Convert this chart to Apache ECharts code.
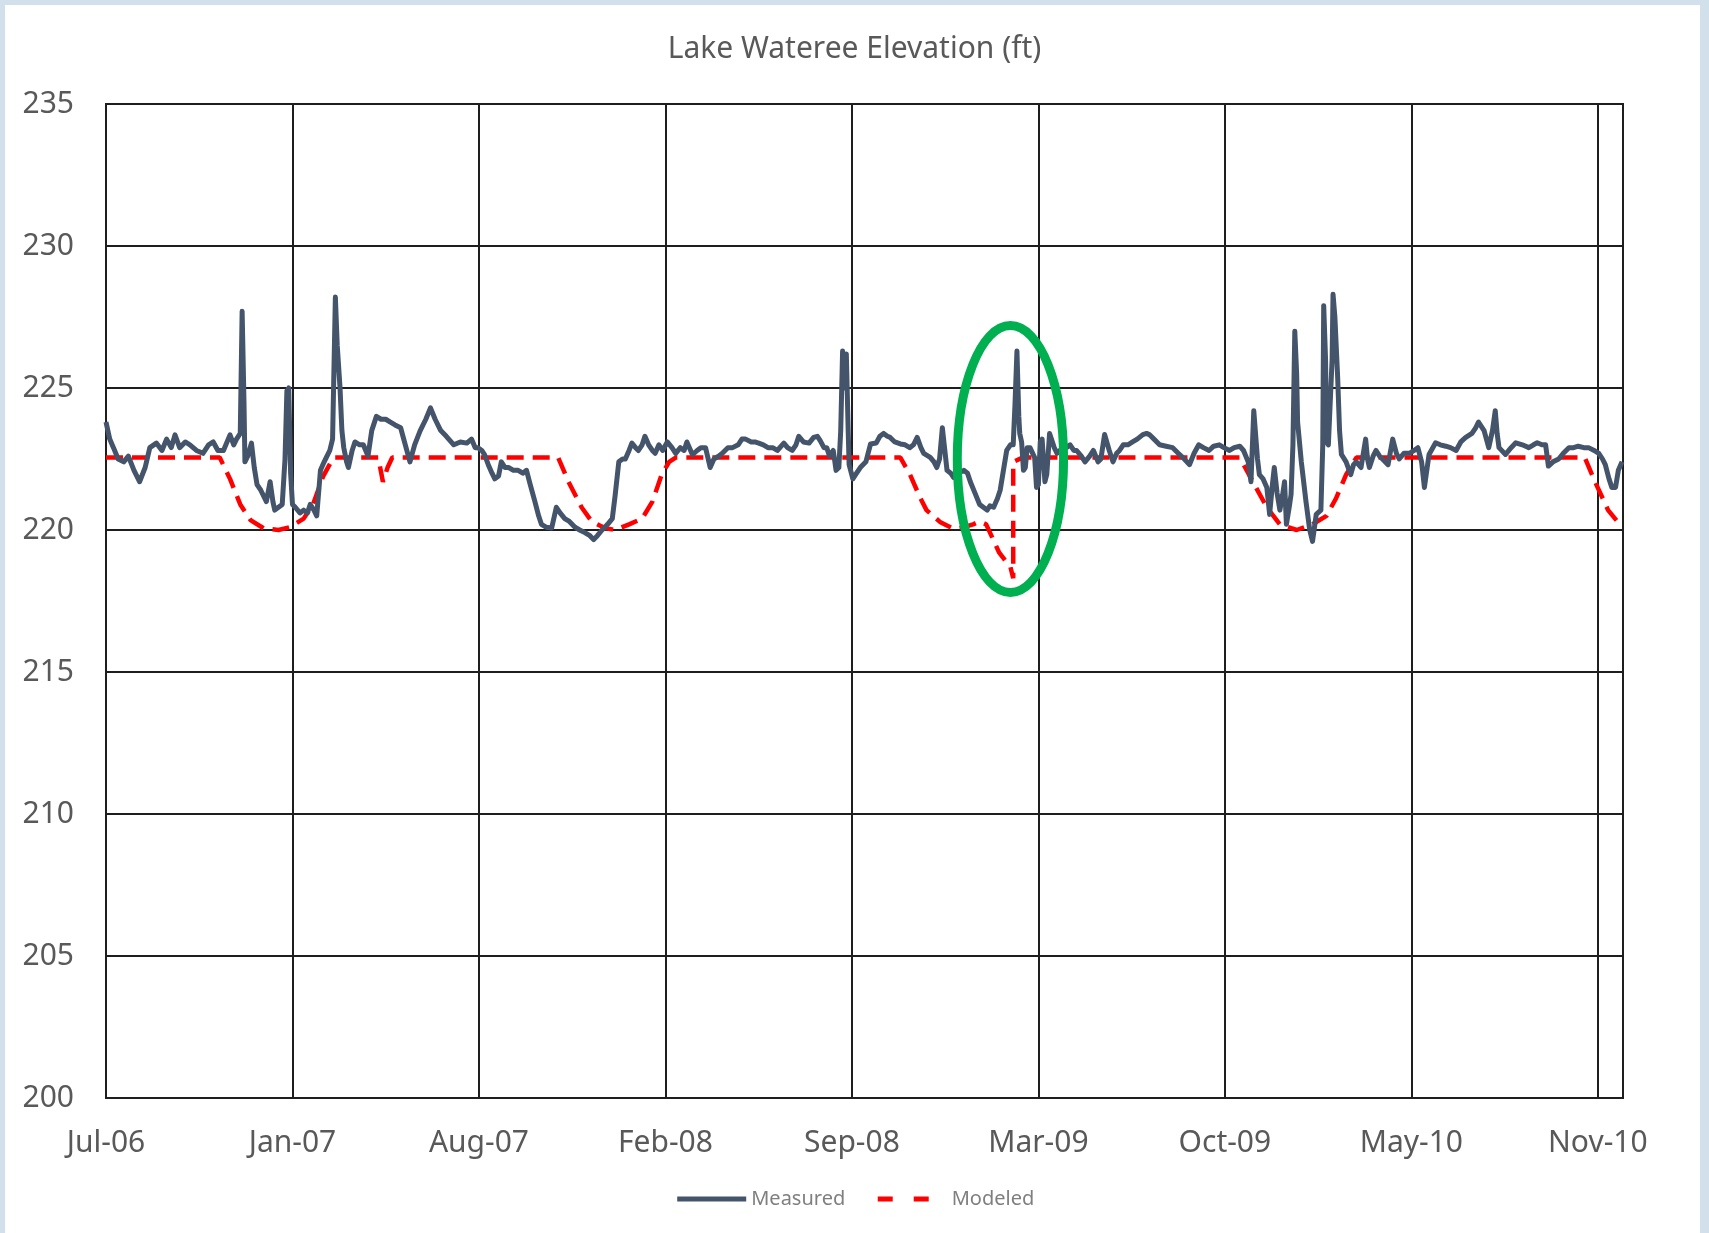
<!DOCTYPE html>
<html>
<head>
<meta charset="utf-8">
<title>Lake Wateree Elevation</title>
<script src="https://cdn.jsdelivr.net/npm/echarts@6/dist/echarts.min.js"></script>
<style>
  html, body { margin: 0; padding: 0; background: #d2e0ec; }
  #sheet { position: absolute; left: 5px; top: 5px; width: 1695px; height: 1228px; background: #ffffff; }
  #chart { position: absolute; left: 0; top: 0; width: 1709px; height: 1233px; }
</style>
</head>
<body>
<div id="sheet"></div>
<div id="chart"></div>
<script>
// Time is counted in days since 1 July 2006; x-axis ticks every 200 days.
const START_DATE = '2006-07-01';
const xTickLabels = ['Jul-06', 'Jan-07', 'Aug-07', 'Feb-08', 'Sep-08', 'Mar-09', 'Oct-09', 'May-10', 'Nov-10'];
const yTickValues = [200, 205, 210, 215, 220, 225, 230, 235];

// Measured lake elevation (ft)
const measuredDay = [
  0, 4, 8, 13, 19, 24, 30, 36, 42, 47, 54, 60, 65, 70, 74, 79, 85, 90, 97, 104,
  110, 115, 120, 126, 133, 137, 140, 144, 146, 148, 149, 152, 156, 159, 162, 166, 169, 172, 176, 179,
  181, 185, 189, 192, 194, 196, 198, 200, 203, 208, 212, 216, 219, 223, 226, 230, 234, 237, 240, 243,
  246, 248, 251, 253, 255, 258, 260, 264, 267, 272, 276, 281, 285, 290, 295, 300, 305, 310, 316, 321,
  326, 331, 337, 343, 348, 353, 359, 365, 373, 380, 387, 392, 396, 399, 403, 406, 410, 414, 417, 421,
  424, 428, 432, 437, 442, 447, 451, 455, 460, 464, 467, 472, 478, 483, 487, 492, 497, 503, 508, 514,
  519, 523, 527, 532, 538, 543, 546, 550, 554, 557, 561, 564, 568, 571, 575, 578, 582, 586, 589, 593,
  597, 602, 607, 611, 616, 620, 623, 629, 634, 638, 643, 648, 652, 657, 661, 667, 672, 678, 682, 686,
  692, 696, 700, 705, 710, 715, 720, 727, 731, 736, 740, 743, 748, 754, 759, 763, 766, 770, 773, 776,
  780, 783, 786, 788, 790, 792, 794, 796, 797, 801, 805, 809, 815, 820, 826, 830, 834, 838, 841, 846,
  852, 857, 862, 866, 870, 874, 877, 884, 888, 891, 894, 897, 899, 902, 906, 909, 914, 920, 924, 927,
  932, 937, 941, 945, 948, 952, 956, 959, 963, 966, 970, 973, 975, 977, 979, 980, 982, 984, 986, 988,
  991, 996, 998, 1000, 1002, 1004, 1007, 1009, 1012, 1014, 1017, 1020, 1023, 1027, 1030, 1034, 1038, 1041, 1046, 1050,
  1055, 1059, 1064, 1067, 1071, 1076, 1080, 1084, 1087, 1091, 1096, 1101, 1106, 1112, 1116, 1119, 1124, 1130, 1137, 1144,
  1150, 1155, 1162, 1167, 1172, 1177, 1183, 1188, 1194, 1199, 1205, 1210, 1216, 1220, 1225, 1228, 1231, 1233, 1235, 1237,
  1241, 1245, 1248, 1251, 1253, 1256, 1259, 1262, 1264, 1266, 1269, 1271, 1273, 1275, 1277, 1278, 1282, 1287, 1291, 1294,
  1298, 1303, 1305, 1306, 1308, 1309, 1311, 1313, 1315, 1316, 1318, 1321, 1323, 1325, 1330, 1335, 1338, 1341, 1346, 1351,
  1353, 1355, 1359, 1362, 1366, 1369, 1375, 1380, 1384, 1387, 1392, 1398, 1403, 1407, 1411, 1414, 1417, 1419, 1426, 1431,
  1437, 1442, 1448, 1453, 1458, 1465, 1469, 1472, 1478, 1483, 1487, 1490, 1492, 1494, 1501, 1507, 1512, 1519, 1526, 1531,
  1535, 1540, 1544, 1547, 1552, 1558, 1563, 1569, 1574, 1579, 1585, 1590, 1596, 1601, 1605, 1608, 1612, 1615, 1619, 1622,
  1626
];
const measuredFt = [
  223.8, 223.2, 222.9, 222.5, 222.4, 222.6, 222.1, 221.7, 222.2, 222.9, 223.06, 222.8, 223.2, 222.9, 223.35, 222.9, 223.1, 223.0, 222.8, 222.7,
  223.0, 223.1, 222.8, 222.8, 223.35, 223.0, 223.2, 223.4, 227.7, 224.5, 222.4, 222.6, 223.06, 222.2, 221.6, 221.4, 221.2, 221.0, 221.7, 221.0,
  220.7, 220.8, 220.9, 222.5, 224.9, 225.0, 222.0, 220.9, 220.8, 220.6, 220.7, 220.6, 220.9, 220.7, 220.5, 222.1, 222.4, 222.6, 222.8, 223.2,
  228.2, 226.5, 225.0, 223.5, 222.9, 222.4, 222.2, 222.8, 223.1, 223.0, 223.0, 222.6, 223.5, 224.0, 223.9, 223.9, 223.8, 223.7, 223.6, 223.0,
  222.4, 223.0, 223.5, 223.9, 224.3, 223.9, 223.5, 223.3, 223.0, 223.1, 223.06, 223.2, 222.9, 222.9, 222.8, 222.65, 222.3, 222.0, 221.8, 221.9,
  222.4, 222.2, 222.2, 222.1, 222.1, 222.0, 222.1, 221.6, 221.0, 220.5, 220.2, 220.1, 220.07, 220.8, 220.6, 220.4, 220.3, 220.1, 220.0, 219.9,
  219.8, 219.66, 219.8, 220.0, 220.2, 220.4, 221.2, 222.4, 222.5, 222.5, 222.8, 223.06, 222.9, 222.8, 223.0, 223.3, 223.0, 222.8, 222.7, 223.0,
  222.8, 223.1, 222.9, 222.7, 222.9, 222.8, 223.1, 222.65, 222.8, 222.9, 222.9, 222.2, 222.5, 222.6, 222.7, 222.9, 222.9, 223.0, 223.2, 223.2,
  223.1, 223.1, 223.06, 223.0, 222.9, 222.9, 222.8, 223.06, 222.9, 222.8, 223.0, 223.3, 223.1, 223.06, 223.26, 223.3, 223.15, 222.9, 222.9, 222.6,
  222.8, 222.1, 222.2, 223.5, 226.3, 225.0, 226.2, 223.5, 222.3, 221.8, 222.0, 222.2, 222.4, 223.03, 223.06, 223.3, 223.4, 223.3, 223.26, 223.1,
  223.03, 223.0, 222.9, 223.0, 223.26, 222.9, 222.7, 222.56, 222.4, 222.2, 222.5, 223.6, 223.0, 222.1, 222.0, 221.85, 222.0, 222.1, 222.0, 221.7,
  221.3, 220.9, 220.8, 220.7, 220.85, 220.8, 221.1, 221.4, 222.2, 222.8, 223.0, 223.0, 224.5, 226.3, 224.0, 223.4, 223.1, 222.1, 222.2, 222.9,
  222.9, 222.55, 221.5, 221.6, 223.1, 223.2, 221.7, 221.96, 223.4, 223.36, 222.9, 222.7, 222.8, 222.9, 222.9, 223.0, 222.8, 222.8, 222.6, 222.4,
  222.6, 222.8, 222.4, 222.5, 223.36, 222.8, 222.4, 222.7, 222.8, 223.0, 223.0, 223.1, 223.2, 223.36, 223.4, 223.36, 223.2, 223.0, 222.95, 222.9,
  222.7, 222.55, 222.3, 222.7, 223.0, 222.9, 222.8, 222.95, 223.0, 222.9, 222.8, 222.9, 222.95, 222.8, 222.4, 221.7, 224.2, 224.2, 222.5, 221.95,
  221.8, 221.5, 220.55, 221.6, 222.2, 221.3, 220.7, 221.25, 221.7, 220.2, 220.8, 221.25, 223.0, 227.0, 225.5, 223.8, 222.4, 221.0, 220.0, 219.6,
  220.55, 220.7, 223.0, 227.9, 226.0, 223.1, 223.0, 223.0, 226.0, 228.3, 227.5, 225.35, 223.5, 222.66, 222.4, 221.95, 222.3, 222.4, 222.2, 223.2,
  222.5, 222.2, 222.6, 222.8, 222.6, 222.5, 222.3, 223.2, 222.7, 222.5, 222.7, 222.7, 222.8, 222.9, 222.4, 221.5, 222.2, 222.66, 223.07, 223.0,
  222.95, 222.9, 222.8, 223.1, 223.25, 223.4, 223.6, 223.8, 223.5, 222.9, 223.5, 224.2, 223.4, 222.9, 222.66, 222.9, 223.07, 223.0, 222.9, 223.0,
  223.07, 223.0, 223.0, 222.25, 222.4, 222.5, 222.7, 222.9, 222.9, 222.95, 222.9, 222.9, 222.8, 222.7, 222.5, 222.3, 221.8, 221.5, 221.5, 222.1,
  222.4
];

// Modeled lake elevation (ft)
const modeledDay = [
  0, 122, 133, 144, 155, 169, 185, 197, 212, 222, 233, 244, 292, 297, 302, 307,
  485, 496, 510, 521, 535, 546, 561, 575, 586, 596, 604, 611,
  852, 862, 873, 880, 895, 909, 920, 930, 937, 944, 951, 958, 965, 970, 973, 973, 983,
  1216, 1230, 1245, 1259, 1277, 1294, 1309, 1319, 1330, 1341,
  1586, 1597, 1611, 1626
];
const modeledFt = [
  222.55, 222.55, 221.8, 220.9, 220.35, 220.06, 220.0, 220.1, 220.4, 220.9, 221.9, 222.55, 222.55, 221.7, 222.2, 222.55,
  222.55, 221.7, 220.8, 220.3, 220.07, 220.0, 220.2, 220.4, 221.0, 221.95, 222.4, 222.55,
  222.55, 221.97, 221.15, 220.7, 220.27, 220.04, 220.1, 220.2, 220.3, 220.2, 219.7, 219.2, 218.9, 218.7, 218.3, 222.4, 222.55,
  222.55, 221.7, 220.8, 220.2, 220.0, 220.2, 220.5, 221.1, 221.95, 222.55,
  222.55, 221.7, 220.7, 220.1
];

// Highlighted period: centre (day, ft) and half-extent (days, ft)
const highlightCentre = [970, 222.5];
const highlightHalf = [57, 4.7];

const X_MAX_DAY = 1627;
const FONT = '"Noto Sans", "Open Sans", sans-serif';
const TEXT_GREY = '#595959';
const GRID_COLOR = '#1e1e1e';

const pairs = (xs, ys) => xs.map((x, i) => [x, ys[i]]);

const chart = echarts.init(document.getElementById('chart'), null, { renderer: 'canvas' });

const option = {
  animation: false,
  backgroundColor: 'transparent',
  textStyle: { fontFamily: FONT },
  title: {
    text: 'Lake Wateree Elevation (ft)',
    left: 'center',
    top: 29,
    textStyle: { fontFamily: FONT, fontSize: 30, fontWeight: 'normal', color: TEXT_GREY }
  },
  grid: {
    left: 106, right: 86, top: 104, bottom: 135,
    show: true, borderColor: GRID_COLOR, borderWidth: 2, backgroundColor: '#ffffff'
  },
  legend: {
    bottom: 19,
    left: 'center',
    itemWidth: 69,
    itemHeight: 20,
    itemGap: 30,
    textStyle: { fontFamily: FONT, fontSize: 20, color: '#7f7f7f' },
    itemStyle: { opacity: 0 },
    lineStyle: { width: 5 },
    data: [
      { name: 'Measured', itemStyle: { opacity: 0 }, lineStyle: { width: 5 } },
      { name: 'Modeled', itemStyle: { opacity: 0 }, lineStyle: { width: 5, type: [15, 21] } }
    ]
  },
  xAxis: {
    type: 'value',
    min: 0,
    max: X_MAX_DAY,
    interval: 200,
    axisLine: { show: true, lineStyle: { color: GRID_COLOR, width: 2 } },
    axisTick: { show: false },
    splitLine: { show: true, lineStyle: { color: GRID_COLOR, width: 2 } },
    axisLabel: {
      margin: 30,
      fontSize: 30,
      color: TEXT_GREY,
      fontFamily: FONT,
      showMaxLabel: false,
      formatter: v => (v % 200 === 0 ? (xTickLabels[v / 200] || '') : '')
    }
  },
  yAxis: {
    type: 'value',
    min: yTickValues[0],
    max: yTickValues[yTickValues.length - 1],
    interval: 5,
    axisLine: { show: true, lineStyle: { color: GRID_COLOR, width: 2 } },
    axisTick: { show: false },
    splitLine: { show: true, lineStyle: { color: GRID_COLOR, width: 2 } },
    axisLabel: { margin: 32, fontSize: 30, color: TEXT_GREY, fontFamily: FONT }
  },
  series: [
    {
      name: 'Modeled',
      type: 'line',
      data: pairs(modeledDay, modeledFt),
      showSymbol: false,
      symbol: 'none',
      z: 3,
      lineStyle: { color: '#ff0000', width: 4.5, type: [17, 9] },
      itemStyle: { color: '#ff0000' }
    },
    {
      name: 'Measured',
      type: 'line',
      data: pairs(measuredDay, measuredFt),
      showSymbol: false,
      symbol: 'none',
      z: 4,
      lineStyle: { color: '#44546a', width: 5, join: 'round' },
      itemStyle: { color: '#44546a' }
    }
  ]
};

chart.setOption(option);

// Ellipse around the highlighted period, placed in data coordinates
function drawHighlight() {
  const c = chart.convertToPixel({ gridIndex: 0 }, highlightCentre);
  const e = chart.convertToPixel({ gridIndex: 0 },
    [highlightCentre[0] + highlightHalf[0], highlightCentre[1] + highlightHalf[1]]);
  chart.setOption({
    graphic: [{
      id: 'highlight',
      type: 'ellipse',
      z: 100,
      shape: { cx: c[0], cy: c[1], rx: Math.abs(e[0] - c[0]), ry: Math.abs(c[1] - e[1]) },
      style: { fill: 'none', stroke: '#00b050', lineWidth: 9 }
    }]
  });
}
drawHighlight();
</script>
</body>
</html>
